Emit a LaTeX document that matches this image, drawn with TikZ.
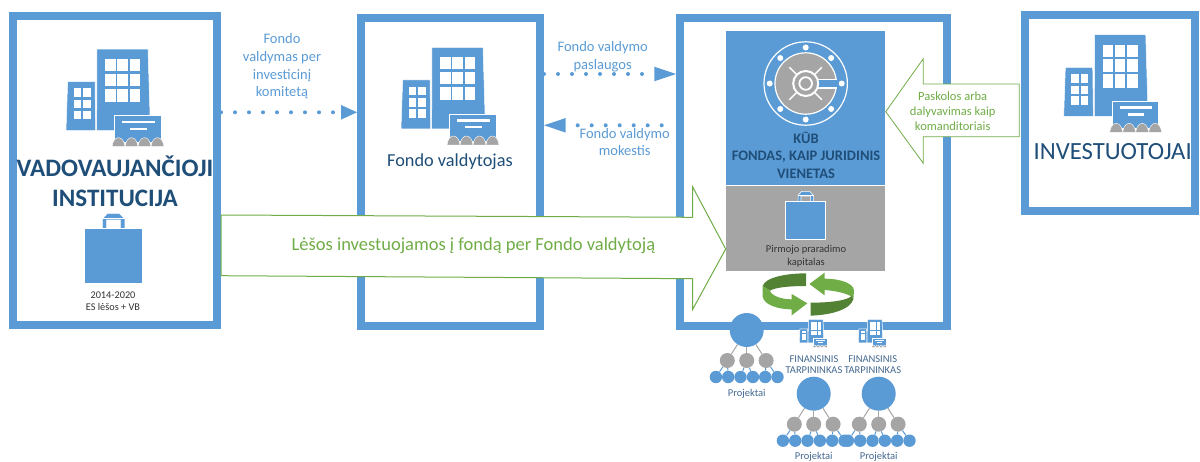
\documentclass[tikz,border=0pt]{standalone}
\usepackage{fontspec}
\setmainfont{Carlito}
\usetikzlibrary{arrows.meta}
\definecolor{bl}{HTML}{5B9BD5}
\definecolor{dk}{HTML}{1F4E79}
\definecolor{gr}{HTML}{A5A5A5}
\definecolor{gn}{HTML}{70AD47}
\definecolor{gd}{HTML}{548235}
\definecolor{mb}{HTML}{44688F}
\definecolor{tx}{HTML}{333333}
\tikzset{
  frame/.style={draw=bl,line width=8pt,fill=white,inner sep=0pt,outer sep=4pt},
  panel/.style={inner sep=0pt,outer sep=0pt},
  label/.style={align=center,inner sep=0pt,text=#1},
  flow/.style={draw=bl,line width=4pt,line cap=round,dash pattern=on 0pt off 14pt,
    -{Triangle[length=#1,width=14.6pt,line width=0pt,fill=bl]}},
  greenarrow/.style={draw=gn,line width=1pt,fill=white,line join=miter},
  rootn/.style={circle,fill=bl,minimum size=34pt,inner sep=0pt},
  midn/.style={circle,fill=gr,minimum size=15pt,inner sep=0pt},
  leafn/.style={circle,fill=bl,minimum size=12.4pt,inner sep=0pt},
  glink/.style={draw=gr,line width=1pt},
  blink/.style={draw=bl,line width=1pt},
}
\newcommand{\bldicon}[3]{%
\begin{scope}[shift={(#1,#2)},x=#3pt/3,y=-#3pt/3,shift={(-198,-147)}]
  \fill[bl,draw=white,line width=.5pt] (203,245)--(285,245)--(287,392)--(198,392)--cycle;
  \foreach \cx in {221,249} \foreach \cy/\ch in {265/26,300/25,332/26}
    \fill[white] (\cx,\cy) rectangle ++(23,\ch);
  \fill[bl,draw=white,line width=.5pt] (291,147)--(444,147)--(450,345)--(450,392)--(290,392)--cycle;
  \foreach \cx in {316,352,389} \foreach \cy/\ch in {177/36,221/37,266/40}
    \fill[white] (\cx,\cy) rectangle ++(31,\ch);
  \fill[bl,draw=white,line width=.5pt] (343,347) rectangle (483,428);
  \fill[white] (366,362) rectangle (464,370);
  \fill[white] (390,383) rectangle (440,390);
  \foreach \cx in {336,375,414,453}
    \fill[gr,draw=white,line width=.4pt] (\cx,440) .. controls (\cx+4,404) and (\cx+35,404) .. (\cx+39,440) -- cycle;
\end{scope}}
\newcommand{\bagicon}[3]{%
\begin{scope}[shift={(#1,#2)},x=#3pt/3,y=-#3pt/3,shift={(-253,-685)}]
  \fill[bl,draw=white,line width=.6pt] (307,685)--(307,657)--(322,640)--(358,640)--(375,657)--(375,685)--(361,685)--(361,660)--(320,660)--(320,685)--cycle;
  \draw[white,line width=.6pt] (307,655)--(375,655);
  \fill[bl,draw=white,line width=.6pt] (253,685) rectangle (428,850);
\end{scope}}
\newcommand{\orgtree}[3]{%
  \node[rootn] (#1r) at (#2,#3) {};
  \foreach \i/\dx in {1/-19.4,2/0,3/19.4}
    \node[midn] (#1m\i) at (#2+\dx,#3+30.5) {};
  \foreach \i/\dx in {1/-30.8,2/-18.5,3/-6.2,4/6.2,5/18.5,6/30.8}
    \node[leafn] (#1l\i) at (#2+\dx,#3+47) {};
  \foreach \i in {1,2,3} \draw[glink] (#1r) -- (#1m\i);
  \foreach \m/\l in {1/1,1/2,2/3,2/4,3/5,3/6} \draw[blink] (#1m\m) -- (#1l\l);
  \node[label=mb,font=\fontsize{10.5}{12}\selectfont] (#1t) at (#2,#3+63.5) {Projektai};
}
\begin{document}
\begin{tikzpicture}[x=1pt,y=-1pt]
\useasboundingbox (0,0) rectangle (1200,461);
% frames
\node[frame,minimum width=204pt,minimum height=309pt] (inst) at (115,170.5) {};
\node[frame,minimum width=179pt,minimum height=308pt] (mgr) at (450.5,172) {};
\node[frame,minimum width=267pt,minimum height=308pt] (fund) at (813.5,172) {};
\node[frame,minimum width=170pt,minimum height=196pt] (inv) at (1110,113) {};
% panels
\node[panel,fill=bl,minimum width=159.5pt,minimum height=153.5pt] (kub) at (805.7,108) {};
\node[panel,fill=gr,minimum width=159.5pt,minimum height=84.7pt] (flc) at (805.7,228.3) {};
% safe
\begin{scope}[shift={(805.7,83.5)}]
  \draw[white,line width=1.2pt] (0,0) circle (41.7);
  \foreach \a in {0,45,...,315} \fill[white] (\a:36) circle (3);
  \fill[gr,draw=white,line width=1.2pt] (0,0) circle (30.7);
  \fill[bl,draw=white,line width=1.2pt] (31.5,-4) -- (9,-4) -- (9,4.5) -- (31.5,4.5);
  \fill[bl] (30,-3.4) rectangle (33,3.9);
  \fill[gr] (0,0) circle (13);
  \foreach \a in {45,135,225,315}
    \draw[white,line width=1.4pt] (\a:13) -- (\a:23);
  \draw[white,line width=2pt] (0,0) circle (12.5);
  \draw[white,line width=1.8pt] (0,0) circle (6.3);
\end{scope}
% bags and buildings
\bldicon{66}{49}{1}
\bldicon{401}{47.3}{1}
\bldicon{1063.7}{34.7}{1}
\bagicon{84.3}{228.3}{1}
\bagicon{785.7}{201.7}{0.686}
% trees and small icons
\orgtree{ta}{746.7}{330}
\bldicon{799.3}{319.3}{0.29}
\bldicon{858.3}{319.3}{0.29}
\orgtree{tb}{813.7}{393.7}
\orgtree{tc}{878.7}{393.7}
% cycle
\begin{scope}[shift={(750,270)},x=1pt/3,y=-1pt/3]
  \fill[gd] (168,10) .. controls (110,10) and (45,22) .. (38,48) -- (60,62) .. controls (75,52) and (120,48) .. (168,48) -- cycle;
  \fill[gn] (38,48) -- (38,80) .. controls (42,105) and (85,118) .. (125,118) -- (125,136) -- (172,100) -- (125,72) -- (125,88) .. controls (95,88) and (65,78) .. (60,62) .. controls (55,58) and (45,52) .. (38,48) -- cycle;
  \fill[gn] (178,42) -- (224,8) -- (224,26) .. controls (270,26) and (312,40) .. (312,62) -- (310,88) -- (305,80) .. controls (290,70) and (255,62) .. (224,60) -- (224,76) -- cycle;
  \fill[gd] (182,98) .. controls (240,98) and (290,92) .. (305,78) -- (310,88) .. controls (300,120) and (240,135) .. (182,137) -- cycle;
\end{scope}
% dotted flows
\coordinate (f1a) at (inst.east |- 0,112.3);
\coordinate (f1b) at (mgr.west |- 0,112.3);
\coordinate (f2a) at (mgr.east |- 0,74);
\coordinate (f2b) at (fund.west |- 0,74);
\coordinate (f3a) at (661.7,125.3);
\coordinate (f3b) at (mgr.east |- 0,125.3);
\draw[flow=16pt] (f1a) -- (f1b);
\draw[flow=21.7pt] (f2a) -- (f2b);
\draw[flow=21.7pt] (f3a) -- (f3b);
% green arrows
\draw[greenarrow] (221,215)--(692.7,217.3)--(692.7,187)--(725.7,249)--(692.7,309.3)--(692.7,278.7)--(221,275.7)--cycle;
\draw[greenarrow,line width=.8pt] (885.7,111.7)--(923.3,58.7)--(923.3,84)--(1019.3,84)--(1019.3,136.7)--(923.3,136.7)--(923.3,163.3)--cycle;
% texts
\node[label=dk,font=\fontsize{25.1}{30}\selectfont\bfseries] (t1) at (115,181) {VADOVAUJANČIOJI\\INSTITUCIJA};
\node[label=tx,font=\fontsize{10.3}{12}\selectfont] (t2) at (113,301) {2014-2020\\ES lėšos + VB};
\node[label=bl,font=\fontsize{14.5}{17.6}\selectfont] (t3) at (282,66.5) {Fondo\\valdymas per\\investicinį\\komitetą};
\node[label=bl,font=\fontsize{14.5}{17.6}\selectfont] (t4) at (602.7,57) {Fondo valdymo\\paslaugos};
\node[label=bl,font=\fontsize{14.5}{17}\selectfont] (t5) at (624.7,142.5) {Fondo valdymo\\mokestis};
\node[label=dk,font=\fontsize{18.3}{22}\selectfont] (t6) at (450,161.5) {Fondo valdytojas};
\node[label=dk,font=\fontsize{14.5}{17.2}\selectfont\bfseries] (t7) at (806,155.3) {KŪB\\FONDAS, KAIP JURIDINIS\\VIENETAS};
\node[label=tx,font=\fontsize{10.5}{13}\selectfont] (t8) at (806,256.5) {Pirmojo praradimo\\kapitalas};
\node[label=gn,font=\fontsize{18.5}{22}\selectfont] (t9) at (473.5,246) {Lėšos investuojamos į fondą per Fondo valdytoją};
\node[label=gn,font=\fontsize{12.5}{14.8}\selectfont] (t10) at (952.7,111) {Paskolos arba\\dalyvavimas kaip\\komanditoriais};
\node[label=dk,font=\fontsize{24.7}{30}\selectfont] (t11) at (1112.7,152) {INVESTUOTOJAI};
\node[label=mb,font=\fontsize{10.5}{11.4}\selectfont] (t12) at (814,364.7) {FINANSINIS\\TARPININKAS};
\node[label=mb,font=\fontsize{10.5}{11.4}\selectfont] (t13) at (872.7,364.7) {FINANSINIS\\TARPININKAS};
\end{tikzpicture}
\end{document}
